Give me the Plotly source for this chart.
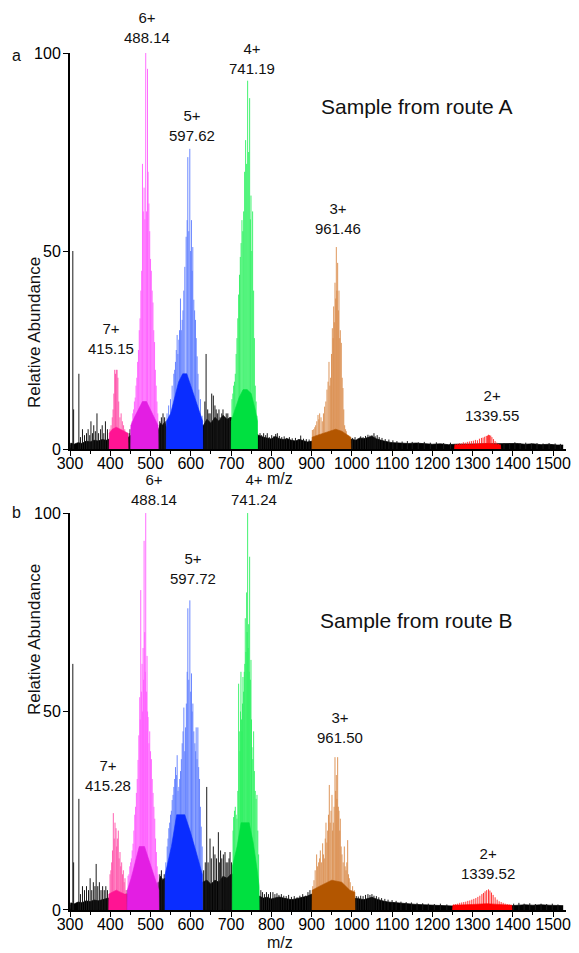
import plotly.graph_objects as go

# ---------------- Panel a : Sample from route A ----------------
A7_mz = [399, 402, 405, 407, 409, 411, 413, 415, 417, 419, 421, 424, 427, 430, 433, 436, 439, 442]
A7_h = [5, 6, 8, 10, 14, 20, 19, 20, 20, 18, 12, 8, 9, 7, 6, 5, 4, 3]
A7_base_mz = [397, 397.5, 405, 415, 425, 435, 444, 444.5]
A7_base_h = [0, 4, 5, 5.5, 5, 4.5, 4, 0]

A6_mz = [452, 454, 456, 458, 460, 462, 464, 466, 468, 470, 472, 474, 476, 478, 480, 482, 484, 486,
         488.1, 490, 492.5, 494, 496, 498, 500, 502, 504, 506, 508, 510, 512, 514, 516, 518]
A6_h = [6, 7, 9, 10, 12, 13, 16, 18, 22, 25, 30, 33, 40, 45, 72, 60, 66, 58,
        100, 60, 96, 70, 62, 55, 48, 45, 40, 37, 30, 27, 20, 16, 12, 9]
A6_base_mz = [451, 451.5, 460, 470, 480, 490, 500, 510, 518.5, 519]
A6_base_h = [0, 6, 8, 10, 12, 12, 10, 8, 6, 0]

A5_mz = [541, 545, 549.6, 553.7, 557.9, 560, 562, 564, 566.1, 568, 570.3, 572, 574.4, 576.5, 578.6, 580.6,
         582.7, 585.2, 588.5, 591, 592.6, 595, 597.6, 599.5, 601.7, 603.5, 605, 607.5, 609.5, 611.7,
         613.5, 615.8, 618, 620, 624, 628]
A5_h = [9, 11, 12.6, 16, 19, 20, 22, 25, 28.8, 24, 27.6, 30, 38, 30, 32.6, 35,
        40, 46, 53.6, 57.8, 73.7, 55, 75.8, 50, 57.8, 45, 51, 37.7, 35, 32.6,
        28, 23.4, 19, 15, 12.6, 8.4]
A5_base_mz = [539, 539.5, 550, 560, 570, 580, 590, 600, 610, 620, 629.5, 630]
A5_base_h = [0, 7, 9, 13, 17, 19, 19, 16, 13, 10, 7, 0]

A4_mz = [702.3, 704.5, 706.4, 708.5, 710.6, 712.7, 714.7, 716.8, 718.8, 721, 723, 725, 727.1, 729.2, 731.3,
         733.7, 736.2, 738.7, 741.2, 743.7, 746.2, 748, 749.5, 751.5, 753.6, 756.1, 758, 760.2, 762.3, 764.4]
A4_h = [12.6, 14, 16, 17, 19, 24, 28, 33, 39, 44, 48.5, 52, 57.8, 55, 60,
        70, 78, 72, 93, 75, 88.6, 58, 64, 50, 60, 40, 28, 16, 12, 8.4]
A4_base_mz = [700, 700.5, 710, 720, 730, 740, 750, 760, 765.5, 766]
A4_base_h = [0, 7, 10, 13, 15, 15, 14, 10, 7, 0]

A3_mz = [902, 905.2, 908, 910.2, 913, 916, 918, 920.1, 923.5, 926.7, 929.5, 932.5, 935.5, 938.3, 941, 943.3,
         945.5, 947.4, 949.5, 951.6, 953.5, 954.9, 956.5, 958.2, 960, 961.5, 963, 964.8, 966.5, 968.1, 970,
         971.4, 973.9, 976, 978, 980, 982.2, 984.5, 986.3, 989.6, 993]
A3_h = [4.8, 5, 5.5, 6, 7, 8.6, 7.5, 9, 8, 7, 9, 10.7, 12, 15, 17, 22,
        16, 18, 24, 30.5, 28, 36, 32, 42, 38, 51, 40, 47, 35, 40, 28,
        30, 26.8, 18, 15.4, 10, 6, 5, 4.5, 3.5, 3]
A3_base_mz = [901, 901.5, 915, 930, 945, 960, 975, 990, 997.5, 998]
A3_base_h = [0, 3, 3.5, 4, 4.5, 5, 4.5, 3.5, 3, 0]

A2_mz = [1257, 1262, 1267, 1272, 1277, 1282, 1287, 1292, 1297, 1302, 1307, 1312, 1317, 1322, 1326, 1330,
         1334, 1337, 1339.5, 1342, 1345, 1348, 1352, 1356, 1360, 1364, 1368]
A2_h = [1.2, 1.3, 1.5, 1.4, 1.7, 1.6, 1.8, 1.9, 2.0, 2.1, 2.3, 2.2, 2.6, 2.8, 2.9, 3.1,
        3.3, 3.4, 3.6, 3.5, 3.4, 3.0, 2.5, 2.0, 1.6, 1.3, 1.2]
A2_base_mz = [1255, 1256, 1300, 1340, 1369, 1370]
A2_base_h = [0, 1.0, 1.2, 1.4, 1.0, 0]

A_noise_mz = [300, 302, 310, 320, 330, 340, 350, 360, 370, 380, 390, 397, 445, 452, 520, 525, 530, 535, 541, 632,
              640, 650, 660, 670, 680, 690, 700, 768, 780, 790, 800, 810, 820, 830, 840, 850, 860, 870, 880, 890,
              903, 998, 1010, 1020, 1030, 1040, 1050, 1060, 1070, 1080, 1090, 1100, 1120, 1140, 1160, 1180, 1200,
              1220, 1240, 1256, 1370, 1390, 1410, 1430, 1450, 1470, 1490, 1510, 1525]
A_noise_h = [0, 1.5, 1.2, 1.6, 1.4, 2.0, 1.8, 2.2, 2.0, 2.4, 2.2, 2.5, 3.0, 3.5, 5.0, 6.5, 6.0, 6.8, 5.0, 6.0,
             7.5, 6.5, 8.0, 7.0, 8.5, 7.5, 8.0, 3.5, 3.0, 2.8, 2.5, 3.2, 2.6, 2.4, 2.6, 2.2, 2.0, 2.4, 2.0, 1.8,
             2.0, 2.5, 2.2, 2.8, 2.6, 3.0, 3.2, 2.6, 2.2, 2.0, 1.8, 1.6, 1.5, 1.4, 1.5, 1.3, 1.2,
             1.3, 1.1, 1.2, 1.3, 1.2, 1.4, 1.2, 1.3, 1.1, 1.2, 1.0, 1.0]

A_spk_mz = [307, 309, 322, 326, 331, 336, 341, 345, 349, 352, 356, 359, 363, 367, 371, 376, 380, 384, 388, 393,
            447, 449, 523, 527, 531, 535, 538, 635, 638, 642, 645, 648, 652, 656, 660, 663, 666, 670, 673, 677,
            680, 684, 688, 692, 696, 772, 776, 781, 786, 790, 795, 801, 806, 811, 815, 820, 826, 832, 838, 845,
            852, 860, 867, 873, 880, 887, 894, 1002, 1008, 1015, 1022, 1028, 1034, 1040, 1045, 1050, 1055, 1058,
            1063, 1068, 1075, 1083, 1092, 1102, 1112, 1125, 1138, 1150, 1165, 1180, 1195, 1210, 1228, 1245,
            1378, 1392, 1405, 1418, 1432, 1446, 1460, 1475, 1490, 1505, 1518]
A_spk_h = [50, 10, 19, 3, 5, 3.5, 4, 5, 3.5, 7, 4, 6, 4.5, 9, 4, 5, 6, 4, 7, 5,
           4, 5, 7, 8, 9, 8, 7, 12, 24, 10, 9, 9, 14, 13.5, 11, 10, 9, 10, 8, 9,
           10, 8, 9, 9, 8, 4, 3.5, 4, 3.5, 4, 3, 3.5, 3.2, 3.8, 4, 3.3, 3, 3.2, 2.8, 3,
           2.7, 2.8, 2.5, 3.4, 2.6, 2.5, 2.4, 2.8, 3, 2.6, 3.2, 3, 3.3, 3.6, 3.4, 3.5, 4, 3.2,
           3.5, 3, 2.8, 2.5, 2.4, 2.2, 2, 1.9, 2, 1.8, 1.7, 1.8, 1.6, 1.7, 1.5, 1.6,
           1.5, 1.5, 1.7, 1.5, 1.6, 1.4, 1.5, 1.4, 1.5, 1.4, 1.3]

A_labels = ["7+<br>415.15", "6+<br>488.14", "5+<br>597.62", "4+<br>741.19", "3+<br>961.46", "2+<br>1339.55"]

# ---------------- Panel b : Sample from route B ----------------
B7_mz = [399.4, 401.5, 403.5, 405.5, 407.6, 409.7, 411.8, 414.3, 416, 417.6, 420, 422, 424.2, 426, 428.3,
         430.5, 432.5, 434.5, 436.6, 439]
B7_h = [9, 10, 12, 15, 24.4, 18, 22, 20.6, 16, 18, 20, 13, 14.6, 11, 12, 9, 10, 7, 8, 5]
B7_base_mz = [396, 396.5, 405, 415, 425, 435, 440.5, 441]
B7_base_h = [0, 4, 4.5, 5, 4.5, 4, 4, 0]

B6_mz = [444.2, 446.3, 448.4, 450.5, 452.5, 454.5, 456.6, 458.7, 460.8, 462.8, 464.9, 467, 469, 471, 473.2,
         474.5, 475.7, 477.3, 479, 480.3, 481.5, 482.8, 484, 485.6, 487, 488.1, 489.8, 491.4, 492.7, 493.9,
         496, 498, 500, 502.2, 504.2, 506.3, 508.4, 510.5, 512.5, 514.6, 516.6, 518.7]
B6_h = [8.6, 9, 11, 12, 13, 15, 16.7, 20, 24, 26, 29.5, 33, 37.8, 44, 53.6,
        48, 80.6, 55, 62, 50, 66, 58, 93, 70, 60, 100, 55, 64, 50, 48.6,
        42, 45, 40, 38, 33, 29.5, 26, 23, 18, 14.6, 11, 9]
B6_base_mz = [442, 442.5, 452, 462, 472, 485, 495, 505, 515, 520.5, 521]
B6_base_h = [0, 5, 8, 12, 16, 16, 13, 10, 7, 5, 0]

B5_mz = [538, 541.4, 543.5, 545.5, 547.6, 549.7, 551.8, 553.8, 556, 558, 560, 562.1, 564.2, 566.2, 568.3,
         570.4, 572.5, 574.5, 576.6, 578.7, 580.8, 582.8, 585, 587, 589, 591.1, 592.7, 595, 597.7, 599.8,
         601.8, 603.5, 605.2, 607.5, 610.1, 612, 613.4, 615.5, 617.6, 619.6, 621.7, 623.8, 625.9, 628.3]
B5_h = [12, 16, 18, 20.6, 22, 24, 25, 27.7, 29, 31, 33, 36, 34, 39, 30,
        31, 33, 35, 38, 42, 45, 51, 40, 46, 52, 60, 76, 58, 78, 55,
        59.6, 50, 52, 45, 42, 40, 46, 38, 46, 36, 33, 26, 21, 16]
B5_base_mz = [536, 536.5, 552, 565, 585, 598, 615, 628.5, 629]
B5_base_h = [0, 9, 16, 24, 24, 20, 14, 9, 0]

B4_mz = [705, 706.4, 708.5, 710.6, 712.7, 714.7, 716.8, 718.8, 720.5, 722.2, 723.5, 724.6, 726, 727.1, 728.5,
         729.6, 731.2, 732.9, 734.2, 735.4, 737, 738.7, 740, 741.2, 742.5, 743.7, 745, 746.2, 748, 749.5,
         750.8, 752, 754, 756.1, 758, 760.2, 762.3, 764.4, 766.5, 768.5]
B4_h = [20, 23.4, 25, 26, 24, 23, 30, 57, 45, 40, 50, 60, 48, 45, 52,
        58.7, 55, 60, 62, 73.5, 65, 80, 70, 100, 66, 72, 60, 89, 58, 63,
        48, 41, 38, 45, 35, 30, 28, 29, 20, 14]
B4_base_mz = [703, 703.5, 715, 725, 745, 755, 765, 769.5, 770]
B4_base_h = [0, 11, 16, 22, 22, 17, 10, 6, 0]

B3_mz = [903, 906, 909, 912.6, 915, 917.6, 920, 921.8, 924.5, 927.6, 929.5, 931.7, 934, 935.8, 938, 940, 942,
         944.1, 946.2, 948.3, 950.7, 952.4, 954, 956, 958.2, 960, 961.5, 963, 964.8, 966.5, 968.1, 970, 971.4,
         973.5, 975.6, 978.5, 981.4, 983.5, 985.5, 987.5, 989.7, 991.8, 993.8, 996, 998, 1002, 1006]
B3_h = [6, 7.5, 10, 14, 11, 12, 13, 15, 12, 16.8, 14, 13, 18, 22, 17, 20, 24,
        31.5, 22, 25, 29, 20, 22, 26, 38.5, 30, 34, 28, 38.5, 26, 25, 20, 23,
        16, 14, 12, 16, 11, 10, 12, 17.6, 9, 8, 7, 5, 6, 5]
B3_base_mz = [901, 901.5, 920, 950, 975, 995, 1007.5, 1008]
B3_base_h = [0, 5, 6, 7.5, 7, 5, 4.5, 0]

B2_mz = [1253, 1258, 1263, 1268, 1273, 1278, 1283, 1288, 1293, 1298, 1303, 1308, 1313, 1318, 1323, 1327, 1331,
         1335, 1339.5, 1343, 1347, 1351, 1356, 1361, 1366, 1371, 1376, 1381, 1386, 1391, 1396]
B2_h = [1.4, 1.5, 1.6, 1.8, 1.9, 2.0, 2.1, 2.3, 2.4, 2.6, 2.8, 3.0, 3.3, 3.6, 4.0, 4.3, 4.7,
        5.0, 5.2, 4.9, 4.4, 3.8, 3.2, 2.6, 2.2, 2.0, 1.8, 1.6, 1.5, 1.4, 1.3]
B2_base_mz = [1250, 1251, 1300, 1335, 1397, 1398]
B2_base_h = [0, 1.2, 1.4, 1.6, 1.2, 0]

B_noise_mz = [300, 302, 310, 320, 330, 340, 350, 360, 370, 380, 390, 396, 441, 444, 521, 525, 530, 536, 629, 640,
              650, 660, 670, 680, 690, 700, 704, 770, 780, 790, 800, 810, 820, 830, 840, 850, 860, 870, 880, 890,
              901, 1008, 1020, 1030, 1040, 1050, 1060, 1070, 1080, 1090, 1100, 1120, 1140, 1160, 1180, 1200, 1220,
              1240, 1250, 1398, 1410, 1430, 1450, 1470, 1490, 1510, 1525]
B_noise_h = [0, 1.8, 1.5, 2.0, 1.8, 2.3, 2.1, 2.5, 2.3, 2.6, 2.8, 3.0, 4, 4, 7, 8.5, 7.5, 8, 7, 7.5,
             6.5, 7.5, 7, 8.5, 8, 9, 9, 3.5, 3.0, 3.2, 2.8, 3.0, 3.3, 3.0, 2.8, 2.6, 2.8, 3.0, 3.2, 3.5,
             4, 3.0, 2.8, 2.6, 3.0, 3.2, 2.8, 2.4, 2.2, 2.0, 1.9, 1.7, 1.5, 1.4, 1.3, 1.2, 1.2,
             1.1, 1.0, 1.1, 1.2, 1.3, 1.2, 1.3, 1.2, 1.1, 1.1]

B_spk_mz = [307, 309, 322, 326, 331, 336, 341, 346, 350, 354, 358, 362, 365, 369, 373, 377, 381, 385, 389, 393,
            442, 523, 527, 531, 534, 632, 636, 639.6, 643, 647.8, 651, 656, 660, 664, 668.5, 671, 674, 677, 680.9,
            685, 688, 692, 695, 697.5, 701, 774, 778, 783, 788, 793, 798, 804, 809, 814, 819, 825, 831, 837, 843,
            850, 857, 864, 871, 878, 885, 891, 896, 1011, 1016, 1022, 1028, 1034, 1040, 1045, 1050, 1055, 1061,
            1067, 1074, 1082, 1090, 1100, 1110, 1122, 1135, 1148, 1162, 1176, 1190, 1205, 1220, 1236,
            1402, 1415, 1428, 1442, 1456, 1470, 1484, 1498, 1512]
B_spk_h = [62, 12, 28, 4, 6, 5, 6, 5, 8, 5, 7, 6, 11.6, 6, 7, 5, 6, 5, 6, 5,
           5, 9, 10, 8, 9, 10, 12, 31, 12, 18, 13, 16, 14, 13, 19.6, 12, 15, 13, 14,
           14.6, 12, 12, 13, 14.6, 12, 5, 4.5, 4, 4.5, 4, 4.5, 4.5, 4, 4.2, 3.8, 4, 3.6, 3.5, 3.8,
           3.3, 3.5, 3.2, 3.6, 4, 3.6, 4.5, 5, 3.5, 3.4, 3.6, 3.5, 3.8, 4, 3.8, 4, 3.6, 3.5,
           3.2, 3, 2.8, 2.6, 2.5, 2.3, 2.1, 2, 1.9, 1.8, 1.7, 1.6, 1.5, 1.6, 1.4,
           1.6, 1.8, 1.6, 1.7, 1.5, 1.6, 1.5, 1.6, 1.4]

B_labels = ["7+<br>415.28", "6+<br>488.14", "5+<br>597.72", "4+<br>741.24", "3+<br>961.50", "2+<br>1339.52"]

x_ticks = list(range(300, 1501, 100))
y_ticks = [0, 50, 100]

# ---------------- styling (layout only) ----------------
FILL = {"7": "#ff1493", "6": "#e31ee3", "5": "#0a2dff", "4": "#00e040", "3": "#b35600", "2": "#ff0000"}
STICK = {"7": "#ff4fa8", "6": "#ff5cff", "5": "#5c7cff", "4": "#2cf060", "3": "#d98a48", "2": "#ff2020"}
FONT = "Arial, Liberation Sans, sans-serif"


def stick_xy(mz, h):
    xs, ys = [], []
    for m, v in zip(mz, h):
        xs += [m, m, None]
        ys += [0, v, None]
    return xs, ys


fig = go.Figure()


def add_panel(xa, ya, noise_mz, noise_h, spk_mz, spk_h, envs):
    fig.add_trace(go.Scatter(x=noise_mz, y=noise_h, mode="lines", fill="tozeroy", fillcolor="black",
                             line=dict(color="black", width=0.8), xaxis=xa, yaxis=ya, hoverinfo="skip"))
    xs, ys = stick_xy(spk_mz, spk_h)
    fig.add_trace(go.Scatter(x=xs, y=ys, mode="lines", line=dict(color="#1a1a1a", width=1),
                             xaxis=xa, yaxis=ya, hoverinfo="skip"))
    for key, bmz, bh, smz, sh in envs:
        xs, ys = stick_xy(smz, sh)
        fig.add_trace(go.Scatter(x=xs, y=ys, mode="lines", line=dict(color=STICK[key], width=0.9),
                                 xaxis=xa, yaxis=ya, hoverinfo="skip"))
        fig.add_trace(go.Scatter(x=bmz, y=bh, mode="lines", fill="tozeroy", fillcolor=FILL[key],
                                 line=dict(color=FILL[key], width=0.6), xaxis=xa, yaxis=ya, hoverinfo="skip"))


add_panel("x", "y", A_noise_mz, A_noise_h, A_spk_mz, A_spk_h, [
    ("7", A7_base_mz, A7_base_h, A7_mz, A7_h),
    ("6", A6_base_mz, A6_base_h, A6_mz, A6_h),
    ("5", A5_base_mz, A5_base_h, A5_mz, A5_h),
    ("4", A4_base_mz, A4_base_h, A4_mz, A4_h),
    ("3", A3_base_mz, A3_base_h, A3_mz, A3_h),
    ("2", A2_base_mz, A2_base_h, A2_mz, A2_h),
])
add_panel("x2", "y2", B_noise_mz, B_noise_h, B_spk_mz, B_spk_h, [
    ("7", B7_base_mz, B7_base_h, B7_mz, B7_h),
    ("6", B6_base_mz, B6_base_h, B6_mz, B6_h),
    ("5", B5_base_mz, B5_base_h, B5_mz, B5_h),
    ("4", B4_base_mz, B4_base_h, B4_mz, B4_h),
    ("3", B3_base_mz, B3_base_h, B3_mz, B3_h),
    ("2", B2_base_mz, B2_base_h, B2_mz, B2_h),
])

xaxis_style = dict(range=[300, 1532], tickmode="array", tickvals=x_ticks, ticks="outside", ticklen=5,
                   tickwidth=1, tickcolor="black", showline=True, linecolor="black", linewidth=1.5,
                   showgrid=False, zeroline=False, automargin=False, ticklabelstandoff=-6,
                   tickfont=dict(family=FONT, size=16, color="black"),
                   minor=dict(tickmode="linear", tick0=350, dtick=100, ticks="outside", ticklen=3,
                              tickcolor="black", tickwidth=1))
yaxis_style = dict(range=[0, 100], tickmode="array", tickvals=y_ticks, ticks="outside", ticklen=5,
                   tickwidth=1.2, tickcolor="black", showline=True, linecolor="black", linewidth=2,
                   showgrid=False, zeroline=False, automargin=False, ticklabelstandoff=-1,
                   tickfont=dict(family=FONT, size=16, color="black"))

# the page adds an 8px body margin, so the figure is drawn 8px smaller / offset
fig.update_layout(
    width=571, height=945,
    margin=dict(l=62, r=13, t=45, b=43, autoexpand=False),
    paper_bgcolor="white", plot_bgcolor="white",
    showlegend=False,
    xaxis=dict(domain=[0, 1], anchor="y", **xaxis_style),
    yaxis=dict(domain=[0.5379, 1], anchor="x", **yaxis_style),
    xaxis2=dict(domain=[0, 1], anchor="y2", **xaxis_style),
    yaxis2=dict(domain=[0, 0.4632], anchor="x2", **yaxis_style),
)

# peak labels (positions are layout choices: x in m/z, y in abundance, yshift in px)
A_lab_pos = [(402, 22.7, 0), (491, 99.5, 7), (603, 76.5, 0), (752, 93.4, 0), (966, 53.0, 0), (1348, 5.8, 0)]
B_lab_pos = [(395, 28.7, 0), (508, 99.5, 5), (606, 80.9, 0), (756, 99.5, 5), (970, 40.8, 0), (1339, 6.5, 0)]
ann = []
for txt, (x, y, s) in zip(A_labels, A_lab_pos):
    ann.append(dict(text=txt, x=x, y=y, yshift=s, xref="x", yref="y", xanchor="center", yanchor="bottom",
                    showarrow=False, font=dict(family=FONT, size=15, color="#111")))
for txt, (x, y, s) in zip(B_labels, B_lab_pos):
    ann.append(dict(text=txt, x=x, y=y, yshift=s, xref="x2", yref="y2", xanchor="center", yanchor="bottom",
                    showarrow=False, font=dict(family=FONT, size=15, color="#111")))

ann += [
    dict(text="Sample from route A", x=1160, y=86.6, xref="x", yref="y", showarrow=False,
         font=dict(family=FONT, size=21, color="#111")),
    dict(text="Sample from route B", x=1160, y=73.0, xref="x2", yref="y2", showarrow=False,
         font=dict(family=FONT, size=21, color="#111")),
    dict(text="a", x=-0.107, y=(910 - 55) / 857, xref="paper", yref="paper", xanchor="center",
         yanchor="middle", showarrow=False, font=dict(family=FONT, size=16, color="#111")),
    dict(text="b", x=-0.107, y=(910 - 513) / 857, xref="paper", yref="paper", xanchor="center",
         yanchor="middle", showarrow=False, font=dict(family=FONT, size=16, color="#111")),
    dict(text="Relative Abundance", x=-0.0706, xshift=-12, y=(910 - 255) / 857, xref="paper", yref="paper",
         textangle=-90, showarrow=False, font=dict(family=FONT, size=17, color="#111")),
    dict(text="Relative Abundance", x=-0.0706, xshift=-12, y=(910 - 717) / 857, xref="paper", yref="paper",
         textangle=-90, showarrow=False, font=dict(family=FONT, size=17, color="#111")),
    dict(text="m/z", x=0.4234, y=(910 - 478) / 857, xref="paper", yref="paper", xanchor="center",
         yanchor="middle", showarrow=False, font=dict(family=FONT, size=16, color="#111")),
    dict(text="m/z", x=0.4234, y=(910 - 942) / 857, xref="paper", yref="paper", xanchor="center",
         yanchor="middle", showarrow=False, font=dict(family=FONT, size=16, color="#111")),
]
fig.update_layout(annotations=ann)

fig.write_html("out.html")
